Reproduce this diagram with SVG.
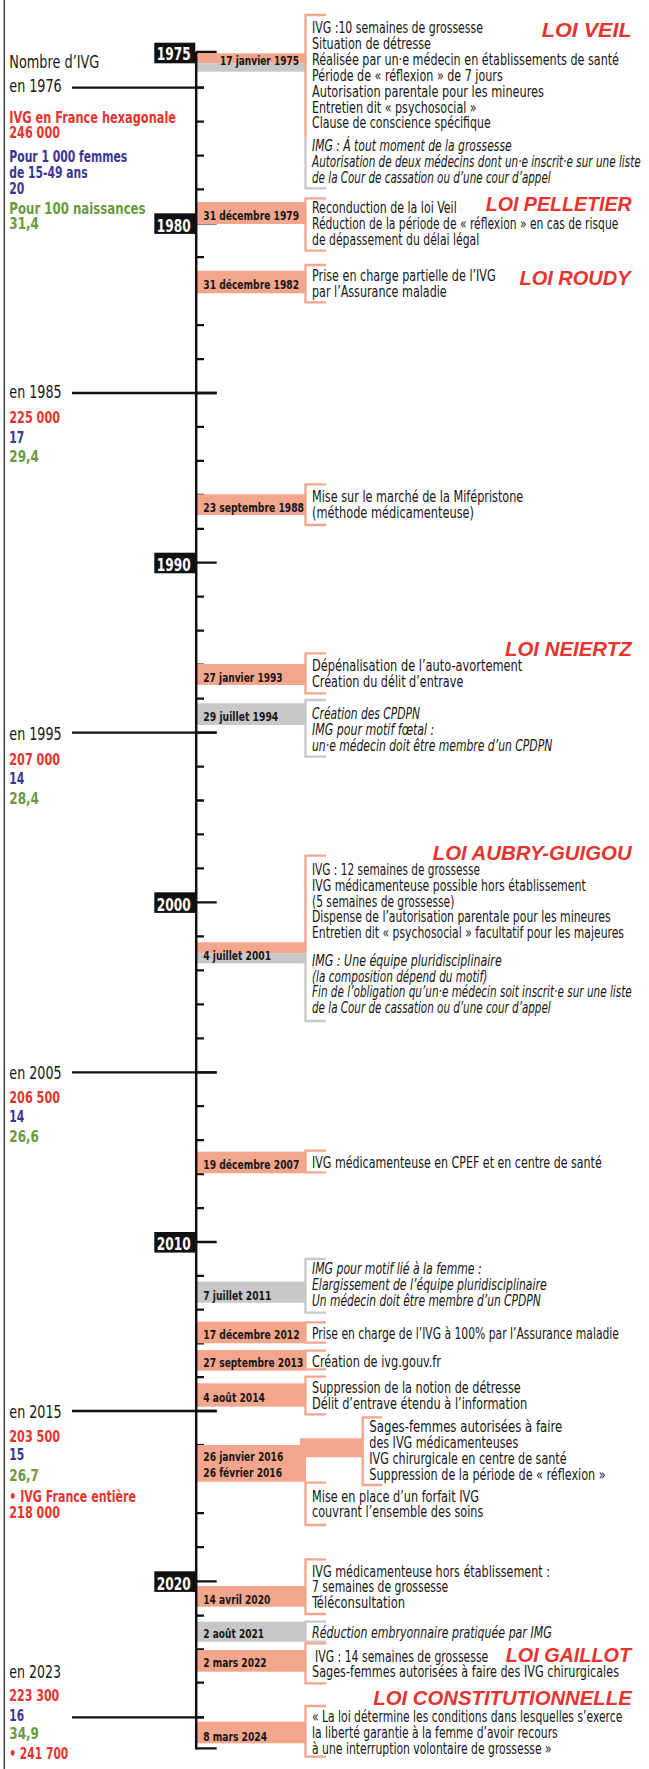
<svg xmlns="http://www.w3.org/2000/svg" width="649" height="1769" viewBox="0 0 649 1769">
<style>
text{font-family:"Liberation Sans Narrow","DejaVu Sans Condensed","Liberation Sans",sans-serif}
.b{font-size:15.3px;fill:#161616}
.i{font-style:italic}
.d{font-size:13px;font-weight:bold;fill:#161616}
.t{font-family:"Liberation Sans",Arial,sans-serif;font-size:20.5px;font-weight:bold;font-style:italic;fill:#E8332F;text-anchor:end}
.y{font-size:18px;font-weight:bold;fill:#fff}
.l{font-size:17.5px;fill:#161616}
.r{font-size:16px;font-weight:bold;fill:#E8332F}
.u{font-size:16px;font-weight:bold;fill:#3C3590}
.g{font-size:16px;font-weight:bold;fill:#6A9A3A}
.sb{fill:#F4A68C}
.gb{fill:#C8C8C8}
.sk{fill:none;stroke:#F4A68C;stroke-width:2.3}
.gk{fill:none;stroke:#C8C8C8;stroke-width:2.3}
.k{fill:none;stroke:#111;stroke-width:2.3}
.yb{fill:#111}
</style>
<rect width="649" height="1769" fill="#fff"/>
<line x1="4.3" y1="0" x2="4.3" y2="1769" stroke="#444" stroke-width="1.5"/>

<g id="connectors">
<path class="k" d="M72,87.7H204M72,393H216.7M72,732.7H216.7M72,1072.3H216.7M72,1411H216.7M72,1717.3H204" stroke-width="2"/>
<path class="k" d="M196,87.7H204M196,121.7H204M196,155.7H204M196,189.3H204M196,257.2H204M196,291.2H204M196,325.1H204M196,359.1H204M196,426.9H204M196,460.9H204M196,494.8H204M196,528.8H204M196,596.7H204M196,630.7H204M196,664.7H204M196,698.7H204M196,766.6H204M196,800.5H204M196,834.4H204M196,868.4H204M196,936.3H204M196,970.3H204M196,1004.3H204M196,1038.3H204M196,1106.2H204M196,1140.2H204M196,1174.1H204M196,1208.1H204M196,1275.8H204M196,1309.6H204M196,1343.4H204M196,1377.2H204M196,1445.1H204M196,1479.1H204M196,1513.2H204M196,1547.2H204M196,1615.7H204M196,1649.3H204M196,1682.7H204M196,1717.3H204"/>
<path class="k" d="M196,52H216.7M196,223.3H216.7M196,393H216.7M196,562.7H216.7M196,732.7H216.7M196,902.3H216.7M196,1072.3H216.7M196,1242H216.7M196,1411H216.7M196,1581.3H216.7M196,1748.3H216.7"/>
</g>

<g id="years">
<rect class="yb" x="154.3" y="42.7" width="41" height="20.6"/><text class="y" x="156.7" y="60" textLength="34" lengthAdjust="spacingAndGlyphs">1975</text>
<rect class="yb" x="154.3" y="213.3" width="41" height="20.6"/><text class="y" x="156.7" y="231.6" textLength="34" lengthAdjust="spacingAndGlyphs">1980</text>
<rect class="yb" x="154.3" y="552.7" width="41" height="20.6"/><text class="y" x="156.7" y="571" textLength="34" lengthAdjust="spacingAndGlyphs">1990</text>
<rect class="yb" x="154.3" y="892.3" width="41" height="20.6"/><text class="y" x="156.7" y="910.6" textLength="34" lengthAdjust="spacingAndGlyphs">2000</text>
<rect class="yb" x="154.3" y="1232" width="41" height="20.6"/><text class="y" x="156.7" y="1250.3" textLength="34" lengthAdjust="spacingAndGlyphs">2010</text>
<rect class="yb" x="154.3" y="1571.3" width="41" height="20.6"/><text class="y" x="156.7" y="1589.6" textLength="34" lengthAdjust="spacingAndGlyphs">2020</text>
</g>

<g id="stats">
<text class="l" x="9.3" y="68.3" textLength="90" lengthAdjust="spacingAndGlyphs">Nombre d’IVG</text>
<text class="l" x="9.3" y="91.7" textLength="52.4" lengthAdjust="spacingAndGlyphs">en 1976</text>
<text class="r" x="9.3" y="122.7" textLength="166.7" lengthAdjust="spacingAndGlyphs">IVG en France hexagonale</text>
<text class="r" x="9.3" y="138.3" textLength="50.7" lengthAdjust="spacingAndGlyphs">246 000</text>
<text class="u" x="9.3" y="162.3" textLength="118" lengthAdjust="spacingAndGlyphs">Pour 1 000 femmes</text>
<text class="u" x="9.3" y="177.7" textLength="78.3" lengthAdjust="spacingAndGlyphs">de 15-49 ans</text>
<text class="u" x="9.3" y="194" textLength="15" lengthAdjust="spacingAndGlyphs">20</text>
<text class="g" x="9.3" y="214" textLength="136.3" lengthAdjust="spacingAndGlyphs">Pour 100 naissances</text>
<text class="g" x="9.3" y="229" textLength="29.7" lengthAdjust="spacingAndGlyphs">31,4</text>

<text class="l" x="9.3" y="398.3" textLength="52.3" lengthAdjust="spacingAndGlyphs">en 1985</text>
<text class="r" x="9.3" y="423.3" textLength="50.7" lengthAdjust="spacingAndGlyphs">225 000</text>
<text class="u" x="9.3" y="442.7" textLength="15" lengthAdjust="spacingAndGlyphs">17</text>
<text class="g" x="9.3" y="462" textLength="29.7" lengthAdjust="spacingAndGlyphs">29,4</text>

<text class="l" x="9.3" y="740" textLength="52.3" lengthAdjust="spacingAndGlyphs">en 1995</text>
<text class="r" x="9.3" y="765" textLength="50.7" lengthAdjust="spacingAndGlyphs">207 000</text>
<text class="u" x="9.3" y="784" textLength="15" lengthAdjust="spacingAndGlyphs">14</text>
<text class="g" x="9.3" y="803.5" textLength="29.7" lengthAdjust="spacingAndGlyphs">28,4</text>

<text class="l" x="9.3" y="1079.3" textLength="52.3" lengthAdjust="spacingAndGlyphs">en 2005</text>
<text class="r" x="9.3" y="1102.7" textLength="50.7" lengthAdjust="spacingAndGlyphs">206 500</text>
<text class="u" x="9.3" y="1121.7" textLength="15" lengthAdjust="spacingAndGlyphs">14</text>
<text class="g" x="9.3" y="1141.7" textLength="29.7" lengthAdjust="spacingAndGlyphs">26,6</text>

<text class="l" x="9.3" y="1418.3" textLength="52.3" lengthAdjust="spacingAndGlyphs">en 2015</text>
<text class="r" x="9.3" y="1441.7" textLength="50.7" lengthAdjust="spacingAndGlyphs">203 500</text>
<text class="u" x="9.3" y="1460" textLength="15" lengthAdjust="spacingAndGlyphs">15</text>
<text class="g" x="9.3" y="1480.5" textLength="29.7" lengthAdjust="spacingAndGlyphs">26,7</text>
<text class="r" x="9.3" y="1502.3" textLength="126.7" lengthAdjust="spacingAndGlyphs">• IVG France entière</text>
<text class="r" x="9.3" y="1518.3" textLength="50.7" lengthAdjust="spacingAndGlyphs">218 000</text>

<text class="l" x="9.3" y="1678.3" textLength="51.7" lengthAdjust="spacingAndGlyphs">en 2023</text>
<text class="r" x="9.3" y="1701" textLength="50" lengthAdjust="spacingAndGlyphs">223 300</text>
<text class="u" x="9.3" y="1720.7" textLength="14.7" lengthAdjust="spacingAndGlyphs">16</text>
<text class="g" x="9.3" y="1739.3" textLength="29.7" lengthAdjust="spacingAndGlyphs">34,9</text>
<text class="r" x="9.3" y="1759.3" textLength="59" lengthAdjust="spacingAndGlyphs">• 241 700</text>
</g>

<g id="ev1975">
<rect class="sb" x="196" y="53.3" width="109" height="10"/>
<rect class="gb" x="196" y="63.3" width="109" height="8.4"/>
<text class="d" x="220" y="64.5" textLength="79" lengthAdjust="spacingAndGlyphs">17 janvier 1975</text>
<path class="sk" d="M326,15H305.5V137"/>
<path class="gk" d="M305.5,137V188.3H326"/>
<text class="t" x="631.7" y="37.3" textLength="90" lengthAdjust="spacingAndGlyphs">LOI VEIL</text>
<text class="b" x="312" y="33.3" textLength="171" lengthAdjust="spacingAndGlyphs">IVG :10 semaines de grossesse</text>
<text class="b" x="312" y="49.1" textLength="119" lengthAdjust="spacingAndGlyphs">Situation de détresse</text>
<text class="b" x="312" y="65" textLength="307" lengthAdjust="spacingAndGlyphs">Réalisée par un·e médecin en établissements de santé</text>
<text class="b" x="312" y="80.8" textLength="190.7" lengthAdjust="spacingAndGlyphs">Période de « réflexion » de 7 jours</text>
<text class="b" x="312" y="96.7" textLength="232" lengthAdjust="spacingAndGlyphs">Autorisation parentale pour les mineures</text>
<text class="b" x="312" y="112.5" textLength="164.7" lengthAdjust="spacingAndGlyphs">Entretien dit « psychosocial »</text>
<text class="b" x="312" y="128.4" textLength="178.7" lengthAdjust="spacingAndGlyphs">Clause de conscience spécifique</text>
<text class="b i" x="312" y="151.3" textLength="199.7" lengthAdjust="spacingAndGlyphs">IMG : Á tout moment de la grossesse</text>
<text class="b i" x="312" y="167.2" textLength="328.7" lengthAdjust="spacingAndGlyphs">Autorisation de deux médecins dont un·e inscrit·e sur une liste</text>
<text class="b i" x="312" y="183" textLength="238.7" lengthAdjust="spacingAndGlyphs">de la Cour de cassation ou d’une cour d’appel</text>
</g>

<g id="ev1979">
<rect class="sb" x="196" y="202" width="109" height="22"/>
<text class="d" x="203.3" y="220" textLength="95.7" lengthAdjust="spacingAndGlyphs">31 décembre 1979</text>
<path class="sk" d="M326,198.3H305.5V250.7H326"/>
<text class="t" x="631.7" y="210.7" textLength="146" lengthAdjust="spacingAndGlyphs">LOI PELLETIER</text>
<text class="b" x="312" y="213.3" textLength="144.7" lengthAdjust="spacingAndGlyphs">Reconduction de la loi Veil</text>
<text class="b" x="312" y="229.2" textLength="306.3" lengthAdjust="spacingAndGlyphs">Réduction de la période de « réflexion » en cas de risque</text>
<text class="b" x="312" y="245" textLength="167.3" lengthAdjust="spacingAndGlyphs">de dépassement du délai légal</text>
</g>

<g id="ev1982">
<rect class="sb" x="196" y="270.7" width="109" height="22.6"/>
<text class="d" x="203.3" y="289" textLength="95.7" lengthAdjust="spacingAndGlyphs">31 décembre 1982</text>
<path class="sk" d="M326,265H305.5V302.3H326"/>
<text class="t" x="630.5" y="285" textLength="111" lengthAdjust="spacingAndGlyphs">LOI ROUDY</text>
<text class="b" x="312" y="281" textLength="183.7" lengthAdjust="spacingAndGlyphs">Prise en charge partielle de l’IVG</text>
<text class="b" x="312" y="296.7" textLength="134.7" lengthAdjust="spacingAndGlyphs">par l’Assurance maladie</text>
</g>

<g id="ev1988">
<rect class="sb" x="196" y="494.3" width="109" height="20.7"/>
<text class="d" x="203.3" y="511.5" textLength="100.7" lengthAdjust="spacingAndGlyphs">23 septembre 1988</text>
<path class="sk" d="M326,484.3H305.5V525H326"/>
<text class="b" x="312" y="502" textLength="211.3" lengthAdjust="spacingAndGlyphs">Mise sur le marché de la Mifépristone</text>
<text class="b" x="312" y="518" textLength="162" lengthAdjust="spacingAndGlyphs">(méthode médicamenteuse)</text>
</g>

<g id="ev1993">
<rect class="sb" x="196" y="664" width="109" height="21"/>
<text class="d" x="203.3" y="681.5" textLength="79.3" lengthAdjust="spacingAndGlyphs">27 janvier 1993</text>
<path class="sk" d="M326,653.3H305.5V693.3H326"/>
<text class="t" x="631.7" y="656" textLength="126.7" lengthAdjust="spacingAndGlyphs">LOI NEIERTZ</text>
<text class="b" x="312" y="671" textLength="210.3" lengthAdjust="spacingAndGlyphs">Dépénalisation de l’auto-avortement</text>
<text class="b" x="312" y="686.7" textLength="151.3" lengthAdjust="spacingAndGlyphs">Création du délit d’entrave</text>
</g>

<g id="ev1994">
<rect class="gb" x="196" y="703.3" width="109" height="21.7"/>
<text class="d" x="203.3" y="721" textLength="75" lengthAdjust="spacingAndGlyphs">29 juillet 1994</text>
<path class="gk" d="M326,700H305.5V756.7H326"/>
<text class="b i" x="312" y="719" textLength="108" lengthAdjust="spacingAndGlyphs">Création des CPDPN</text>
<text class="b i" x="312" y="735" textLength="122.3" lengthAdjust="spacingAndGlyphs">IMG pour motif fœtal :</text>
<text class="b i" x="312" y="750.5" textLength="240.3" lengthAdjust="spacingAndGlyphs">un·e médecin doit être membre d’un CPDPN</text>
</g>

<g id="ev2001">
<rect class="sb" x="196" y="942.3" width="109" height="11"/>
<rect class="gb" x="196" y="953.3" width="109" height="10"/>
<text class="d" x="203.3" y="960" textLength="67.7" lengthAdjust="spacingAndGlyphs">4 juillet 2001</text>
<path class="sk" d="M326,855.7H305.5V952"/>
<path class="gk" d="M305.5,952V1021H326"/>
<text class="t" x="631.7" y="860" textLength="199" lengthAdjust="spacingAndGlyphs">LOI AUBRY-GUIGOU</text>
<text class="b" x="312" y="875" textLength="168" lengthAdjust="spacingAndGlyphs">IVG : 12 semaines de grossesse</text>
<text class="b" x="312" y="890.8" textLength="273.7" lengthAdjust="spacingAndGlyphs">IVG médicamenteuse possible hors établissement</text>
<text class="b" x="312" y="906.6" textLength="142.3" lengthAdjust="spacingAndGlyphs">(5 semaines de grossesse)</text>
<text class="b" x="312" y="922.4" textLength="298.7" lengthAdjust="spacingAndGlyphs">Dispense de l’autorisation parentale pour les mineures</text>
<text class="b" x="312" y="938.2" textLength="312" lengthAdjust="spacingAndGlyphs">Entretien dit « psychosocial » facultatif pour les majeures</text>
<text class="b i" x="312" y="966" textLength="189.7" lengthAdjust="spacingAndGlyphs">IMG : Une équipe pluridisciplinaire</text>
<text class="b i" x="312" y="981.7" textLength="175.3" lengthAdjust="spacingAndGlyphs">(la composition dépend du motif)</text>
<text class="b i" x="312" y="997.4" textLength="319.7" lengthAdjust="spacingAndGlyphs">Fin de l’obligation qu’un·e médecin soit inscrit·e sur une liste</text>
<text class="b i" x="312" y="1013.1" textLength="238.7" lengthAdjust="spacingAndGlyphs">de la Cour de cassation ou d’une cour d’appel</text>
</g>

<g id="ev2007">
<rect class="sb" x="196" y="1151.7" width="109" height="21.6"/>
<text class="d" x="203.3" y="1169" textLength="96" lengthAdjust="spacingAndGlyphs">19 décembre 2007</text>
<path class="sk" d="M326,1150.7H305.5V1172.3H326"/>
<text class="b" x="312" y="1168" textLength="289.7" lengthAdjust="spacingAndGlyphs">IVG médicamenteuse en CPEF et en centre de santé</text>
</g>

<g id="ev2011">
<rect class="gb" x="196" y="1281.7" width="109" height="21"/>
<text class="d" x="203.3" y="1300" textLength="68" lengthAdjust="spacingAndGlyphs">7 juillet 2011</text>
<path class="gk" d="M326,1259H305.5V1312.7H326"/>
<text class="b i" x="312" y="1274" textLength="169.7" lengthAdjust="spacingAndGlyphs">IMG pour motif lié à la femme :</text>
<text class="b i" x="312" y="1289.8" textLength="234.7" lengthAdjust="spacingAndGlyphs">Elargissement de l’équipe pluridisciplinaire</text>
<text class="b i" x="312" y="1305.6" textLength="228.7" lengthAdjust="spacingAndGlyphs">Un médecin doit être membre d’un CPDPN</text>
</g>

<g id="ev2012">
<rect class="sb" x="196" y="1321.7" width="109" height="21.6"/>
<text class="d" x="203.3" y="1339.3" textLength="96.3" lengthAdjust="spacingAndGlyphs">17 décembre 2012</text>
<path class="sk" d="M326,1322.3H305.5V1342.7H326"/>
<text class="b" x="312" y="1339" textLength="307" lengthAdjust="spacingAndGlyphs">Prise en charge de l’IVG à 100% par l’Assurance maladie</text>
</g>

<g id="ev2013">
<rect class="sb" x="196" y="1350" width="109" height="20.7"/>
<text class="d" x="203.3" y="1366.7" textLength="100" lengthAdjust="spacingAndGlyphs">27 septembre 2013</text>
<path class="sk" d="M326,1350.7H305.5V1369.3H326"/>
<text class="b" x="312" y="1367" textLength="129" lengthAdjust="spacingAndGlyphs">Création de ivg.gouv.fr</text>
</g>

<g id="ev2014">
<rect class="sb" x="196" y="1383.3" width="109" height="23.4"/>
<text class="d" x="203.3" y="1401.7" textLength="61.7" lengthAdjust="spacingAndGlyphs">4 août 2014</text>
<path class="sk" d="M326,1376.7H305.5V1414.3H326"/>
<text class="b" x="312" y="1393" textLength="208.7" lengthAdjust="spacingAndGlyphs">Suppression de la notion de détresse</text>
<text class="b" x="312" y="1409" textLength="215.3" lengthAdjust="spacingAndGlyphs">Délit d’entrave étendu à l’information</text>
</g>

<g id="ev2016">
<rect class="sb" x="196" y="1445" width="110" height="36.7"/>
<rect class="sb" x="300" y="1438.3" width="62.7" height="19"/>
<text class="d" x="203.3" y="1460.7" textLength="80" lengthAdjust="spacingAndGlyphs">26 janvier 2016</text>
<text class="d" x="203.3" y="1477.3" textLength="78.7" lengthAdjust="spacingAndGlyphs">26 février 2016</text>
<path class="sk" d="M382,1417.3H362.7V1485H382"/>
<path class="sk" d="M326,1482.7H305.5V1525H326"/>
<text class="b" x="369.3" y="1432" textLength="193" lengthAdjust="spacingAndGlyphs">Sages-femmes autorisées à faire</text>
<text class="b" x="369.3" y="1448" textLength="149" lengthAdjust="spacingAndGlyphs">des IVG médicamenteuses</text>
<text class="b" x="369.3" y="1464" textLength="197.3" lengthAdjust="spacingAndGlyphs">IVG chirurgicale en centre de santé</text>
<text class="b" x="369.3" y="1479.7" textLength="236.3" lengthAdjust="spacingAndGlyphs">Suppression de la période de « réflexion »</text>
<text class="b" x="312" y="1501.5" textLength="167" lengthAdjust="spacingAndGlyphs">Mise en place d’un forfait IVG</text>
<text class="b" x="312" y="1517" textLength="171.3" lengthAdjust="spacingAndGlyphs">couvrant l’ensemble des soins</text>
</g>

<g id="ev2020">
<rect class="sb" x="196" y="1586" width="109" height="20.7"/>
<text class="d" x="203.3" y="1604" textLength="67" lengthAdjust="spacingAndGlyphs">14 avril 2020</text>
<path class="sk" d="M326,1559.3H305.5V1614H326"/>
<text class="b" x="312" y="1576.5" textLength="238" lengthAdjust="spacingAndGlyphs">IVG médicamenteuse hors établissement :</text>
<text class="b" x="312" y="1592.3" textLength="136.3" lengthAdjust="spacingAndGlyphs">7 semaines de grossesse</text>
<text class="b" x="312" y="1608" textLength="93" lengthAdjust="spacingAndGlyphs">Téléconsultation</text>
</g>

<g id="ev2021">
<rect class="gb" x="196" y="1621.7" width="109" height="20"/>
<text class="d" x="203.3" y="1638.3" textLength="60.7" lengthAdjust="spacingAndGlyphs">2 août 2021</text>
<path class="gk" d="M326,1621.7H305.5V1641.7H326"/>
<text class="b i" x="312" y="1637.5" textLength="239.7" lengthAdjust="spacingAndGlyphs">Réduction embryonnaire pratiquée par IMG</text>
</g>

<g id="ev2022">
<rect class="sb" x="196" y="1650" width="109" height="21.7"/>
<text class="d" x="203.3" y="1667.3" textLength="63.3" lengthAdjust="spacingAndGlyphs">2 mars 2022</text>
<path class="sk" d="M326,1643.3H305.5V1683.3H326"/>
<text class="t" x="631" y="1661.7" textLength="125.3" lengthAdjust="spacingAndGlyphs">LOI GAILLOT</text>
<text class="b" x="315" y="1661.5" textLength="173.3" lengthAdjust="spacingAndGlyphs">IVG : 14 semaines de grossesse</text>
<text class="b" x="312" y="1677" textLength="307" lengthAdjust="spacingAndGlyphs">Sages-femmes autorisées à faire des IVG chirurgicales</text>
</g>

<g id="ev2024">
<rect class="sb" x="196" y="1721.7" width="109" height="21.6"/>
<text class="d" x="203.3" y="1740.7" textLength="63.7" lengthAdjust="spacingAndGlyphs">8 mars 2024</text>
<path class="sk" d="M326,1706H305.5V1756.7H326"/>
<text class="t" x="631.7" y="1705" textLength="258.4" lengthAdjust="spacingAndGlyphs">LOI CONSTITUTIONNELLE</text>
<text class="b" x="312" y="1722" textLength="310.3" lengthAdjust="spacingAndGlyphs">« La loi détermine les conditions dans lesquelles s’exerce</text>
<text class="b" x="312" y="1738" textLength="245.7" lengthAdjust="spacingAndGlyphs">la liberté garantie à la femme d’avoir recours</text>
<text class="b" x="312" y="1754" textLength="239.7" lengthAdjust="spacingAndGlyphs">à une interruption volontaire de grossesse »</text>
</g>

<g id="axis">
<line x1="196.2" y1="51.7" x2="196.2" y2="1749.5" stroke="#111" stroke-width="2.5"/>
</g>
</svg>
